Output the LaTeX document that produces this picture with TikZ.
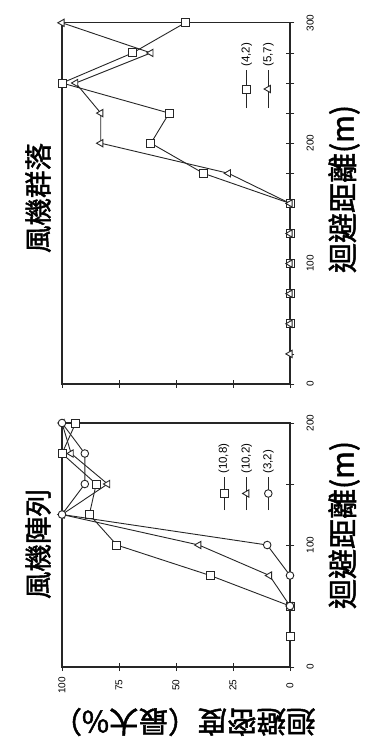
\documentclass[tikz,border=0pt]{standalone}
\usepackage{fontspec}
\setmainfont{Liberation Sans}
\newfontfamily\cjk[FakeBold=1.6]{Noto Sans CJK TC}
\usetikzlibrary{plotmarks}
\tikzset{
  axisline/.style={line width=1.3pt, black!85},
  tickline/.style={line width=0.8pt, black!85},
  dline/.style={line width=0.9pt, black!85},
  sqmark/.style={mark=square*, mark size=4pt, mark options={fill=white, solid, line width=0.9pt}},
  trimark/.style={mark=triangle*, mark size=4.2pt, mark options={fill=white, rotate=90, solid, line width=0.9pt}},
  cirmark/.style={mark=*, mark size=3.8pt, mark options={fill=white, solid, line width=0.9pt}},
  ticklabel/.style={font=\fontsize{10}{11}\selectfont, rotate=90, inner sep=0pt},
  legtext/.style={font=\fontsize{11.5}{12}\selectfont, rotate=90, anchor=west, inner sep=0pt},
  titletext/.style={font=\cjk\fontsize{27.5}{30}\selectfont, rotate=90, inner sep=0pt},
  xlabeltext/.style={font=\cjk\fontsize{30}{32}\selectfont, rotate=90, inner sep=0pt},
  ylabeltext/.style={font=\cjk\fontsize{29.5}{31}\selectfont, rotate=180, inner sep=0pt}
}
\begin{document}
\begin{tikzpicture}[x=1pt,y=-1pt]
\useasboundingbox (0,0) rectangle (366,753);
\fill[white] (0,0) rectangle (366,753);

% ---------------- top panel: 風機群落 ----------------
\begin{scope}[shift={(290,384)}, x={(0pt,1.204pt)}, y={(-2.28pt,0pt)}]
  \foreach \d in {0,25,...,300} \draw[tickline] (\d,-1.9) -- (\d,1.9);
  \foreach \v in {0,25,50,75,100} \draw[tickline] (-3.3,\v) -- (3.3,\v);
  \draw[axisline] (0,0) rectangle (300,100);
  \foreach \d in {0,100,200,300} \node[ticklabel] at (\d,-8.8) {\d};
  \draw[dline] plot[sqmark] coordinates {(50,0) (75,0) (100,0) (125,0) (150,0) (175,38) (200,61) (225,53) (250,100) (275,69) (300,46)};
  \draw[dline] plot[trimark] coordinates {(25,0) (50,0) (75,0) (100,0) (125,0) (150,0) (175,27) (200,83) (225,83) (250,94) (275,61) (300,100)};
\end{scope}
\node[titletext] (t1) at (38,198) {風機群落};
\node[xlabeltext] (xl1) at (344,189) {迴避距離(m)};
% legend top
\coordinate (l1a) at (246.7,70); \coordinate (l1b) at (246.7,108);
\coordinate (l2a) at (268.3,70); \coordinate (l2b) at (268.3,108);
\draw[dline] (l1b) -- (l1a);
\draw[dline] plot[sqmark] coordinates {(246.7,89)};
\node[legtext] (lt1) at (246.7,67) {(4,2)};
\draw[dline] (l2b) -- (l2a);
\draw[dline] plot[trimark] coordinates {(268.3,89)};
\node[legtext] (lt2) at (268.3,67) {(5,7)};

% ---------------- bottom panel: 風機陣列 ----------------
\begin{scope}[shift={(290,667)}, x={(0pt,1.22pt)}, y={(-2.28pt,0pt)}]
  \foreach \d in {0,50,...,200} \draw[tickline] (\d,-1.9) -- (\d,1.9);
  \foreach \v in {0,25,50,75,100} \draw[tickline] (-3.3,\v) -- (3.3,\v);
  \draw[axisline] (0,0) rectangle (200,100);
  \foreach \d in {0,100,200} \node[ticklabel] at (\d,-8.8) {\d};
  \foreach \v in {0,25,50,75,100} \node[ticklabel] at (-15,\v) {\v};
  \draw[dline] plot[sqmark] coordinates {(25,0) (50,0) (75,35) (100,76) (125,88) (150,85) (175,100) (200,94)};
  \draw[dline] plot[trimark] coordinates {(50,0) (75,9) (100,40) (125,100) (150,80) (175,96) (200,100)};
  \draw[dline] plot[cirmark] coordinates {(50,0) (75,0) (100,10) (125,100) (150,90) (175,90) (200,100)};
\end{scope}
\node[titletext] (t2) at (38,544) {風機陣列};
\node[xlabeltext] (xl2) at (344,525) {迴避距離(m)};
\node[ylabeltext] (yl) at (184,722) {迴避密度（最大\%）};
% legend bottom
\coordinate (m1a) at (224,477); \coordinate (m1b) at (224,510);
\coordinate (m2a) at (246.7,477); \coordinate (m2b) at (246.7,510);
\coordinate (m3a) at (268.3,477); \coordinate (m3b) at (268.3,510);
\draw[dline] (m1b) -- (m1a);
\draw[dline] plot[sqmark] coordinates {(224,493.5)};
\node[legtext] (mt1) at (224,474) {(10,8)};
\draw[dline] (m2b) -- (m2a);
\draw[dline] plot[trimark] coordinates {(246.7,493.5)};
\node[legtext] (mt2) at (246.7,474) {(10,2)};
\draw[dline] (m3b) -- (m3a);
\draw[dline] plot[cirmark] coordinates {(268.3,493.5)};
\node[legtext] (mt3) at (268.3,474) {(3,2)};
\end{tikzpicture}
\end{document}
